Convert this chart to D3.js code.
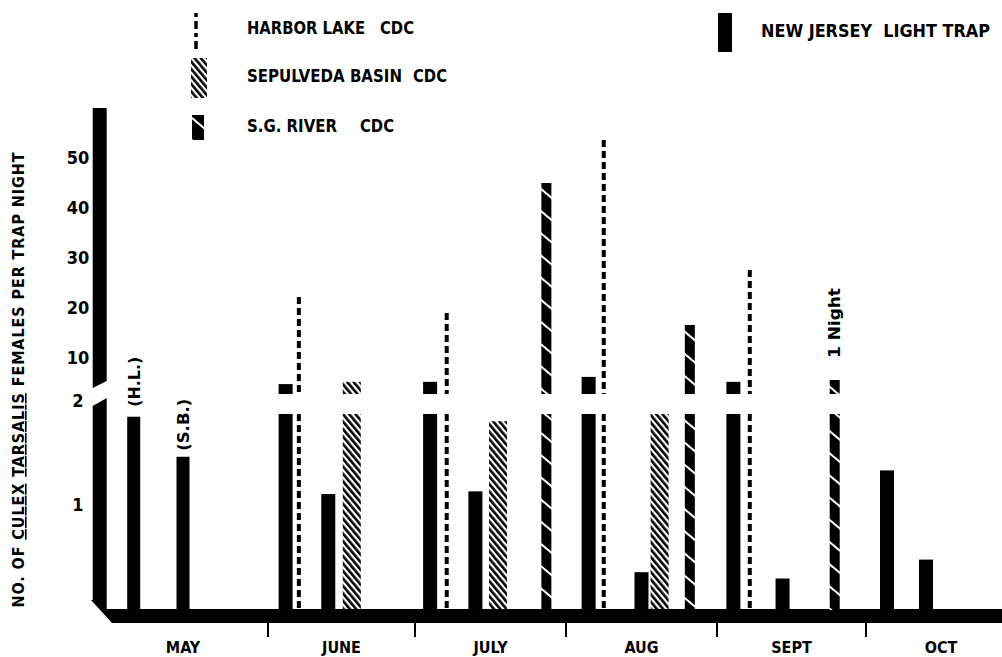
<!DOCTYPE html>
<html><head><meta charset="utf-8">
<script src="https://cdn.jsdelivr.net/npm/d3@7"></script>
<style>
html,body{margin:0;padding:0;background:#fff;}
svg{display:block;}
text{font-family:"DejaVu Sans Condensed","DejaVu Sans",sans-serif;font-weight:bold;fill:#000;}
</style></head><body>
<svg id="chart" width="1002" height="657"></svg>
<script>
// ---------- data ----------
const months = ["MAY","JUNE","JULY","AUG","SEPT","OCT"];
const upperTicks = [10,20,30,40,50];
const lowerTicks = [1];
const breakTick = 2;
// positions are in months after 1 May (0 = 1 May, 1 = 1 June ...)
const njPos = [0.01,1.12,1.41,2.10,2.40,3.15,3.50,4.11,4.44,5.14,5.40];
const njVal = [60,4.2,1.12,4.7,1.15,5.8,0.36,4.7,0.30,1.38,0.48];
const hlPos = [1.21,2.21,3.25,4.22];
const hlVal = [22.2,19,53.6,27.6];
const sbPos = [1.57,2.55,3.62];
const sbVal = [4.7,1.92,2.0];
const sgPos = [2.87,3.82,4.79];
const sgVal = [45,16.6,5.1];
const solidPos = [0.21,0.50];
const solidVal = [1.97,1.53];
const solidText = ["(H.L.)","(S.B.)"];
const noteIndex = 2;
const noteText = "1 Night";
const legendLabels = ["HARBOR LAKE","SEPULVEDA BASIN","S.G. RIVER"];
const legendSuffix = "CDC";
const njLabel = "NEW JERSEY  LIGHT TRAP";
const yTitleParts = ["NO. OF ","CULEX"," ","TARSALIS"," FEMALES PER TRAP NIGHT"];

// ---------- scales ----------
const x = d3.scaleLinear().domain([0,1,2,3,4,5,6]).range([98,268,415,566,717,866,1016]);
const yLow = d3.scaleLinear().domain([0,1,2]).range([610,505,414]);
const yUp = d3.scaleLinear().domain([2,10,50]).range([394,358,158]);

function segs(v){
  if (v <= breakTick) return [[yLow(v), yLow(0)]];
  return [[yLow(breakTick), yLow(0)], [yUp(v), yUp(breakTick)]];
}

const svg = d3.select("#chart");
const defs = svg.append("defs");
const sb = defs.append("pattern").attr("id","sbHatch").attr("patternUnits","userSpaceOnUse")
  .attr("width",4.8).attr("height",20).attr("patternTransform","rotate(-40)");
sb.append("rect").attr("width",2.6).attr("height",20).attr("fill","#000");
const sg = defs.append("pattern").attr("id","sgStripe").attr("patternUnits","userSpaceOnUse")
  .attr("width",40).attr("height",17).attr("patternTransform","rotate(40)");
sg.append("rect").attr("width",40).attr("height",17).attr("fill","#000");
sg.append("rect").attr("y",0).attr("width",40).attr("height",2).attr("fill","#fff");

// ---------- base / axis ----------
svg.append("path")
  .attr("d","M91,600 L106,600 L106,609 L1002,609 L1002,623 L112,623 Z")
  .attr("fill","#000");
svg.append("g").selectAll("line").data(d3.range(1,6)).join("line")
  .attr("x1",d=>x(d)).attr("x2",d=>x(d)).attr("y1",623).attr("y2",637)
  .attr("stroke","#000").attr("stroke-width",2);
svg.append("g").selectAll("text").data(months).join("text")
  .attr("x",(d,i)=>x(i+0.5)).attr("y",653).attr("text-anchor","middle")
  .attr("font-size",16).text(d=>d);

// y tick labels
svg.append("g").selectAll("text").data(upperTicks).join("text")
  .attr("x",78).attr("y",d=>yUp(d)).attr("dy","0.36em").attr("text-anchor","middle")
  .attr("font-size",18).text(d=>d);
svg.append("g").selectAll("text").data(lowerTicks).join("text")
  .attr("x",78).attr("y",d=>yLow(d)).attr("dy","0.36em").attr("text-anchor","middle")
  .attr("font-size",18).text(d=>d);
svg.append("text").attr("x",78).attr("y",yUp(breakTick)+7).attr("dy","0.36em")
  .attr("text-anchor","middle").attr("font-size",18).text(breakTick);

// y title
const yt = svg.append("text").attr("transform","translate(24,380) rotate(-90)")
  .attr("text-anchor","middle").attr("font-size",16)
  .attr("textLength",455).attr("lengthAdjust","spacing");
yTitleParts.forEach((p,i)=>{
  const t = yt.append("tspan").text(p);
  if (i===1 || i===3) t.attr("text-decoration","underline");
});

// ---------- bars ----------
function solidBars(pos, val, w, skipFirst){
  const g = svg.append("g");
  pos.forEach((p,i)=>{
    if (skipFirst && i===0) return;
    segs(val[i]).forEach(s=>{
      g.append("rect").attr("x",x(p)-w/2).attr("width",w)
        .attr("y",s[0]).attr("height",s[1]-s[0]).attr("fill","#000");
    });
  });
}
solidBars(njPos, njVal, 14, true);
solidBars(solidPos, solidVal, 13, false);

// first NJ bar doubles as the axis: slanted break
{
  const cx = x(njPos[0]), l = cx-7, r = cx+7;
  const top = yUp(njVal[0]), b2u = yUp(breakTick), b2l = yLow(breakTick);
  svg.append("path").attr("fill","#000")
    .attr("d",`M${l},${top} L${r},${top} L${r},${b2u-13} L${l},${b2u-6} Z`);
  svg.append("path").attr("fill","#000")
    .attr("d",`M${l},${b2l-8} L${r},${b2l-16} L${r},${yLow(0)} L${l},${yLow(0)-10} Z`);
}

// Harbor Lake dashed
const hg = svg.append("g");
hlPos.forEach((p,i)=>{
  segs(hlVal[i]).forEach(s=>{
    hg.append("line").attr("x1",x(p)).attr("x2",x(p)).attr("y1",s[0]).attr("y2",s[1])
      .attr("stroke","#000").attr("stroke-width",4).attr("stroke-dasharray","7,4");
  });
});
// Sepulveda hatched
const sbg = svg.append("g");
sbPos.forEach((p,i)=>{
  segs(sbVal[i]).forEach(s=>{
    sbg.append("rect").attr("x",x(p)-9).attr("width",18)
      .attr("y",s[0]).attr("height",s[1]-s[0]).attr("fill","url(#sbHatch)");
  });
});
// S.G. River
const sgg = svg.append("g");
sgPos.forEach((p,i)=>{
  segs(sgVal[i]).forEach(s=>{
    sgg.append("rect").attr("x",x(p)-5).attr("width",10)
      .attr("y",s[0]).attr("height",s[1]-s[0]).attr("fill","url(#sgStripe)");
  });
});

// bar labels
const solidGap = [10,6];
const solidLen = [50,52];
solidPos.forEach((p,i)=>{
  svg.append("text").attr("transform",`translate(${x(p)+6},${yLow(solidVal[i])-solidGap[i]}) rotate(-90)`)
    .attr("font-size",16).attr("text-anchor","start")
    .attr("textLength",solidLen[i]).attr("lengthAdjust","spacingAndGlyphs").text(solidText[i]);
});
svg.append("text")
  .attr("transform",`translate(${x(sgPos[noteIndex])+5},${yUp(sgVal[noteIndex])-22}) rotate(-90)`)
  .attr("font-size",15).attr("text-anchor","start")
  .attr("textLength",70).attr("lengthAdjust","spacingAndGlyphs").text(noteText);

// ---------- legend ----------
svg.append("line").attr("x1",196).attr("x2",196).attr("y1",13).attr("y2",52)
  .attr("stroke","#000").attr("stroke-width",3.5).attr("stroke-dasharray","4,4,8,4");
svg.append("rect").attr("x",191).attr("y",58).attr("width",16).attr("height",40).attr("fill","url(#sbHatch)");
svg.append("rect").attr("x",192).attr("y",115).attr("width",12).attr("height",25).attr("fill","url(#sgStripe)");
svg.append("rect").attr("x",718).attr("y",13).attr("width",14).attr("height",39).attr("fill","#000");

const legY = [34,82,132];
const legW = [118,155,90];
const cdcX = [380,413,360];
legendLabels.forEach((l,i)=>{
  svg.append("text").attr("x",247).attr("y",legY[i]).attr("font-size",17)
    .attr("textLength",legW[i]).attr("lengthAdjust","spacingAndGlyphs").text(l);
  svg.append("text").attr("x",cdcX[i]).attr("y",legY[i]).attr("font-size",17)
    .attr("textLength",34).attr("lengthAdjust","spacingAndGlyphs").text(legendSuffix);
});
svg.append("text").attr("x",761).attr("y",37).attr("font-size",17)
  .attr("textLength",229).attr("lengthAdjust","spacingAndGlyphs").attr("xml:space","preserve")
  .style("white-space","pre").text(njLabel);
</script>
</body></html>
